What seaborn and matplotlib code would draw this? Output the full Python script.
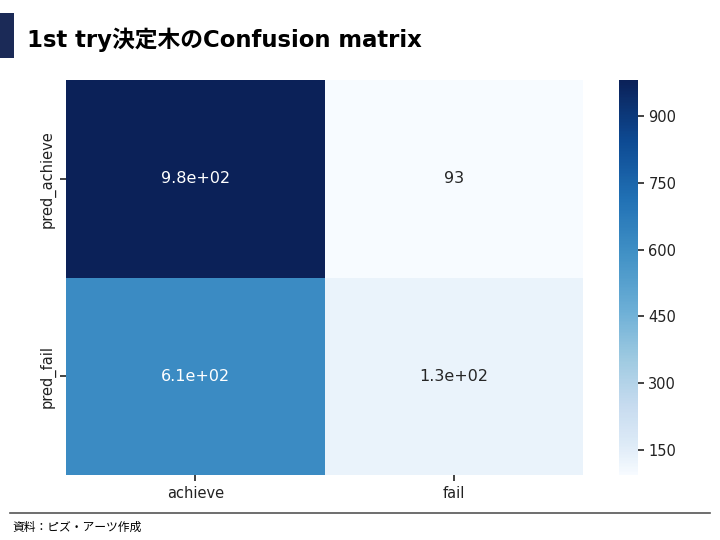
import numpy as np
import pandas as pd
import matplotlib
matplotlib.use("Agg")
import matplotlib.pyplot as plt
import seaborn as sns
from matplotlib.patches import Rectangle
from matplotlib.lines import Line2D
from matplotlib.colors import LinearSegmentedColormap

row_labels = ["pred_achieve", "pred_fail"]
col_labels = ["achieve", "fail"]
row_achieve = [982, 93]
row_fail = [612, 131]
cbar_ticks = [150, 300, 450, 600, 750, 900]

plt.rcParams['font.family'] = ['DejaVu Sans', 'Noto Sans CJK JP']

# Blues palette, slightly darker as rendered in the reference
anchors = ["#f7fbff", "#deebf7", "#c6dbef", "#9ecae1", "#6baed6",
           "#4292c6", "#2171b5", "#0d4a93", "#0b2158"]
pos = [(i / 8) ** (1 / 0.8) for i in range(9)]
cmap = LinearSegmentedColormap.from_list("blues_dark", list(zip(pos, anchors)))

df = pd.DataFrame([row_achieve, row_fail], index=row_labels, columns=col_labels)

fig = plt.figure(figsize=(7.2, 5.4), dpi=100)
ax = fig.add_axes([0.092, 0.120, 0.718, 0.732])
cax = fig.add_axes([0.860, 0.120, 0.026, 0.732])

sns.heatmap(df, annot=True, cmap=cmap, ax=ax, cbar_ax=cax,
            annot_kws={"fontsize": 11.5})
cax.set_yticks(cbar_ticks)
cax.tick_params(labelsize=10.5, length=4, width=1.2, colors="#222222")
for sp in cax.spines.values():
    sp.set_visible(False)
ax.tick_params(labelsize=10.5, length=4, width=1.2, colors="#222222")
ax.set_xlabel("")
ax.set_ylabel("")

# title decoration
fig.patches.append(Rectangle((0.0, 0.893), 0.019, 0.082, transform=fig.transFigure,
                             facecolor="#1b2a57", edgecolor="none"))
fig.text(0.037, 0.927, "1st try決定木のConfusion matrix", fontsize=16.4,
         fontweight="bold", va="center", ha="left", color="black",
         family=['DejaVu Sans', 'Noto Sans CJK JP'])

# footer
fig.lines.append(Line2D([0.014, 0.986], [0.050, 0.050], transform=fig.transFigure,
                        color="#555555", linewidth=1.2))
fig.text(0.017, 0.024, "資料：ピズ・アーツ作成", fontsize=8.5, va="center", ha="left",
         family=['Noto Sans CJK JP', 'DejaVu Sans'])

fig.savefig("out.png", dpi=100)
